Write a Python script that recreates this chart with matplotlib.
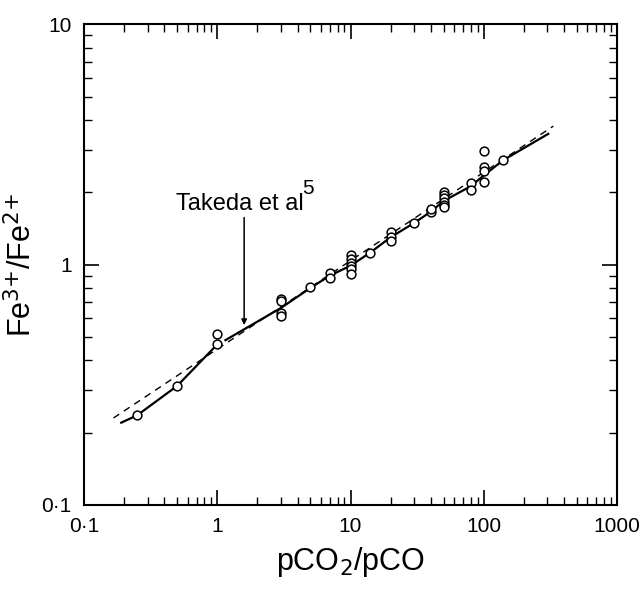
import matplotlib
matplotlib.use("Agg")
import matplotlib.pyplot as plt
import numpy as np

plt.rcParams['font.family'] = ['Liberation Sans', 'DejaVu Sans']

# measured points (pCO2/pCO, Fe3+/Fe2+)
x_data = [0.25, 0.5, 1, 1,
          3, 3, 3, 3, 5, 7, 7,
          10, 10, 10, 10, 10, 10, 14,
          20, 20, 20, 30, 40, 40,
          50, 50, 50, 50, 50, 50,
          80, 80, 100, 100, 100, 100, 140]
y_data = [0.236, 0.313, 0.466, 0.513,
          0.72, 0.706, 0.627, 0.61, 0.805, 0.92, 0.88,
          1.095, 1.054, 1.02, 0.985, 0.955, 0.91, 1.12,
          1.37, 1.30, 1.25, 1.49, 1.66, 1.70,
          2.0, 1.95, 1.89, 1.83, 1.77, 1.73,
          2.19, 2.04, 2.98, 2.55, 2.45, 2.21, 2.72]

# solid line (this work), NaN = break
x_solid = [0.19, 0.25, 0.5, 1.0, np.nan, 1.15, 3, 5, 7, 10, 14, 20, 30, 40, 50, 80, 100, 140, 305]
y_solid = [0.22, 0.236, 0.313, 0.466, np.nan, 0.485, 0.66, 0.80, 0.90, 0.99, 1.12, 1.30, 1.49, 1.66, 1.84, 2.12, 2.35, 2.72, 3.5]

# dashed line (Takeda et al)
x_takeda = [0.166, 333]
y_takeda = [0.23, 3.77]

xticks = [0.1, 1, 10, 100, 1000]
xlabels = ['0·1', '1', '10', '100', '1000']
yticks = [0.1, 1, 10]
ylabels = ['0·1', '1', '10']

fig = plt.figure(figsize=(6.42, 5.92), dpi=100)
ax = fig.add_axes([0.131, 0.147, 0.830, 0.812])

ax.plot(x_solid, y_solid, color='black', lw=1.6, zorder=2)
ax.plot(x_takeda, y_takeda, color='black', lw=1.0, dashes=(5, 4), zorder=1)
ax.scatter(x_data, y_data, s=40, facecolors='white', edgecolors='black',
           linewidths=1.1, zorder=3)

ax.annotate('', xy=(1.59, 0.56), xytext=(1.59, 1.57),
            arrowprops=dict(arrowstyle='-|>', color='black', lw=1.1,
                            mutation_scale=8, shrinkA=0, shrinkB=0))
ax.text(0.49, 1.69, 'Takeda et al', fontsize=17, ha='left', va='baseline')
ax.text(4.3, 1.97, '5', fontsize=15, ha='left', va='baseline')

ax.set_xscale('log')
ax.set_yscale('log')
ax.set_xlim(0.1, 1000)
ax.set_ylim(0.1, 10)
ax.set_xticks(xticks)
ax.set_xticklabels(xlabels)
ax.set_yticks(yticks)
ax.set_yticklabels(ylabels)

ax.tick_params(which='both', direction='in', top=True, right=True, labelsize=15)
ax.tick_params(which='major', length=11, width=1.2, pad=9)
ax.tick_params(which='minor', length=5.5, width=1.0)
for s in ax.spines.values():
    s.set_linewidth(1.5)

ax.set_xlabel('pCO$_2$/pCO', fontsize=22, labelpad=6)
ax.set_ylabel('Fe$^{3{+}}$/Fe$^{2{+}}$', fontsize=22, labelpad=2)

fig.savefig('out.png', dpi=100)
